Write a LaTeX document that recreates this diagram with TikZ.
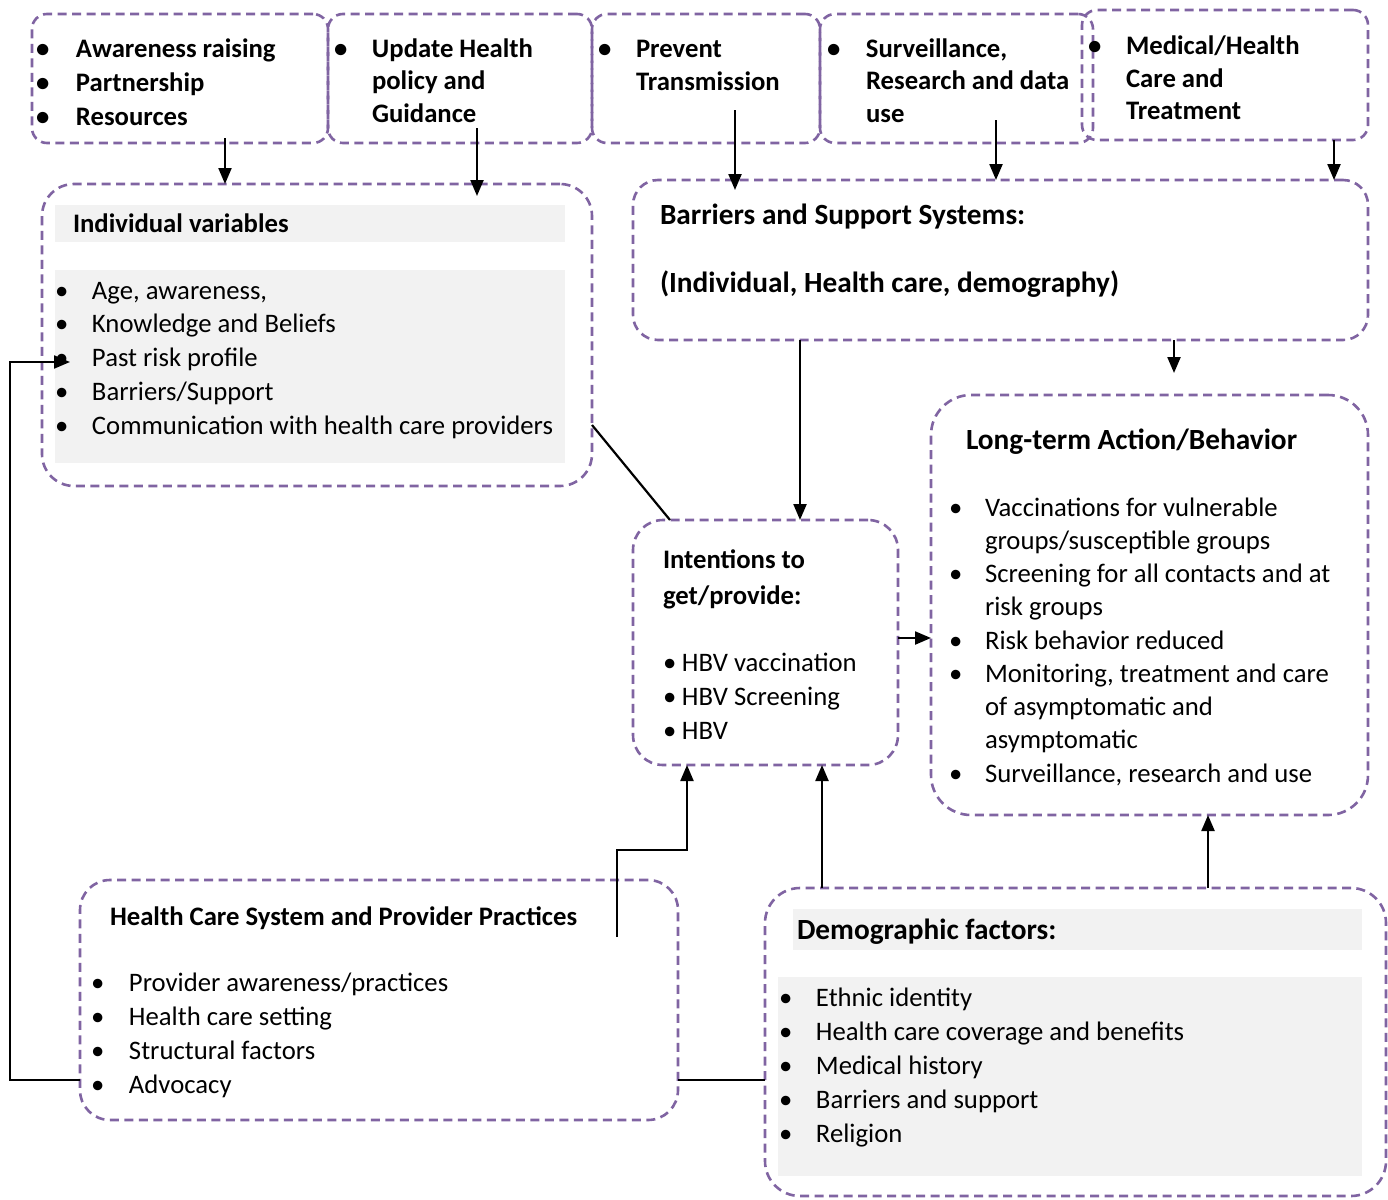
\documentclass[tikz,border=0pt]{standalone}
\usepackage{fontspec}
\setmainfont{Carlito}
\usetikzlibrary{arrows.meta}
\definecolor{purp}{HTML}{8064A2}
\definecolor{band}{HTML}{F2F2F2}
\tikzset{
  dbox/.style={draw=purp, line width=2.6pt, dash pattern=on 9pt off 5.5pt, inner sep=0pt, outer sep=0pt},
  arr/.style={line width=2.2pt, -{Triangle[length=16pt,width=13pt]}},
  ln/.style={line width=2.2pt},
  txt/.style={anchor=base west, inner sep=0pt, outer sep=0pt, align=left},
}
\newcommand\mkbox[6]{\node[dbox, rounded corners=#6pt, minimum width={#4-#2}, minimum height={#5-#3}] (#1) at ({(#2+#4)/2},{(#3+#5)/2}) {};}
\newcommand\bu[1]{\makebox[#1pt][l]{•}}
\newcommand\ind[1]{\hspace*{#1pt}}
\newcommand\bodyf[1]{\fontsize{26.7}{#1}\selectfont}
\newcommand\headf{\fontsize{29.3}{34}\selectfont}
\begin{document}
\begin{tikzpicture}[x=1pt,y=-1pt]
\useasboundingbox (0,0) rectangle (1388,1199);
\fill[white] (0,0) rectangle (1388,1199);
% grey bands
\fill[band] (55,205) rectangle (565,242);
\fill[band] (55,270) rectangle (565,463);
\fill[band] (793,909) rectangle (1362,950);
\fill[band] (778,977) rectangle (1362,1176);
% boxes
\mkbox{a}{32}{14}{328}{143}{15}
\mkbox{b}{328}{14}{592}{143}{15}
\mkbox{c}{592}{14}{820}{143}{15}
\mkbox{d}{820}{14}{1093}{143}{15}
\mkbox{e}{1082}{10}{1368}{140}{15}
\mkbox{ind}{42}{184}{592}{486}{32}
\mkbox{bar}{633}{180}{1368}{340}{25}
\mkbox{int}{633}{520}{898}{765}{30}
\mkbox{long}{931}{395}{1368}{815}{40}
\mkbox{hc}{80}{880}{678}{1120}{30}
\mkbox{dem}{765}{888}{1386}{1196}{35}
% top texts
\node[txt] (ta) at (36,57) {\bfseries\bodyf{34}\begin{tabular}[t]{@{}l@{}}\bu{40}Awareness raising\\ \bu{40}Partnership\\ \bu{40}Resources\end{tabular}};
\node[txt] (tb) at (334,57) {\bfseries\bodyf{32.5}\begin{tabular}[t]{@{}l@{}}\bu{38}Update Health\\ \ind{38}policy and\\ \ind{38}Guidance\end{tabular}};
\node[txt] (tc) at (598,57) {\bfseries\bodyf{33}\begin{tabular}[t]{@{}l@{}}\bu{38}Prevent\\ \ind{38}Transmission\end{tabular}};
\node[txt] (td) at (827,57) {\bfseries\bodyf{32.5}\begin{tabular}[t]{@{}l@{}}\bu{39}Surveillance,\\ \ind{39}Research and data\\ \ind{39}use\end{tabular}};
\node[txt] (te) at (1088,55) {\bfseries\bodyf{32.5}\begin{tabular}[t]{@{}l@{}}\bu{38}Medical/Health\\ \ind{38}Care and\\ \ind{38}Treatment\end{tabular}};
% individual variables
\node[txt] (indt) at (73,232) {\bfseries\bodyf{30}Individual variables};
\node[txt] (indl) at (55,299) {\bodyf{33.75}\begin{tabular}[t]{@{}l@{}}\bu{37}Age, awareness,\\ \bu{37}Knowledge and Beliefs\\ \bu{37}Past risk profile\\ \bu{37}Barriers/Support\\ \bu{37}Communication with health care providers\end{tabular}};
% barriers
\node[txt] (bart1) at (660,224) {\bfseries\headf Barriers and Support Systems:};
\node[txt] (bart2) at (660,292) {\bfseries\headf (Individual, Health care, demography)};
% intentions
\node[txt] (intt) at (663,568) {\bfseries\bodyf{36}\begin{tabular}[t]{@{}l@{}}Intentions to\\ get/provide:\end{tabular}};
\node[txt] (intl) at (663,671) {\bodyf{34}\begin{tabular}[t]{@{}l@{}}\bu{19}HBV vaccination\\ \bu{19}HBV Screening\\ \bu{19}HBV\end{tabular}};
% long-term
\node[txt] (longt) at (966,449) {\bfseries\headf Long-term Action/Behavior};
\node[txt] (longl) at (949,516) {\bodyf{33.25}\begin{tabular}[t]{@{}l@{}}\bu{36}Vaccinations for vulnerable\\ \ind{36}groups/susceptible groups\\ \bu{36}Screening for all contacts and at\\ \ind{36}risk groups\\ \bu{36}Risk behavior reduced\\ \bu{36}Monitoring, treatment and care\\ \ind{36}of asymptomatic and\\ \ind{36}asymptomatic\\ \bu{36}Surveillance, research and use\end{tabular}};
% health care system
\node[txt] (hct) at (110,925) {\bfseries\bodyf{30}Health Care System and Provider Practices};
\node[txt] (hcl) at (91,991) {\bodyf{34}\begin{tabular}[t]{@{}l@{}}\bu{38}Provider awareness/practices\\ \bu{38}Health care setting\\ \bu{38}Structural factors\\ \bu{38}Advocacy\end{tabular}};
% demographic
\node[txt] (demt) at (797,939) {\bfseries\headf Demographic factors:};
\node[txt] (deml) at (779,1006) {\bodyf{34}\begin{tabular}[t]{@{}l@{}}\bu{37}Ethnic identity\\ \bu{37}Health care coverage and benefits\\ \bu{37}Medical history\\ \bu{37}Barriers and support\\ \bu{37}Religion\end{tabular}};
% connectors
\draw[arr] ([yshift=5pt]a.south -| 225,0) -- (ind.north -| 225,0);
\draw[arr] ([yshift=15pt]b.south -| 477,0) -- ([yshift=-12pt]ind.north -| 477,0);
\draw[arr] ([yshift=33pt]c.south -| 735,0) -- ([yshift=-10pt]bar.north -| 735,0);
\draw[arr] ([yshift=23pt]d.south -| 996,0) -- (bar.north -| 996,0);
\draw[arr] (e.south -| 1334,0) -- (bar.north -| 1334,0);
\draw[arr] (bar.south -| 800,0) -- (int.north -| 800,0);
\draw[arr, shorten >=22pt] (bar.south -| 1174,0) -- (long.north -| 1174,0);
\draw[ln] (ind.east |- 0,425) -- (int.north -| 670,0);
\draw[arr] (int.east |- 0,638) -- (long.west |- 0,638);
\coordinate (hcj) at (617,937);
\draw[arr] (hcj) |- (687,850) -- (int.south -| 687,0);
\draw[arr] (dem.north -| 822,0) -- (int.south -| 822,0);
\draw[arr] (dem.north -| 1208,0) -- (long.south -| 1208,0);
\coordinate (ptr) at (70,362);
\draw[arr] (hc.west |- 0,1080) -- (10,1080) |- (ptr);
\draw[ln] (hc.east |- 0,1080) -- (dem.west |- 0,1080);
\end{tikzpicture}
\end{document}
